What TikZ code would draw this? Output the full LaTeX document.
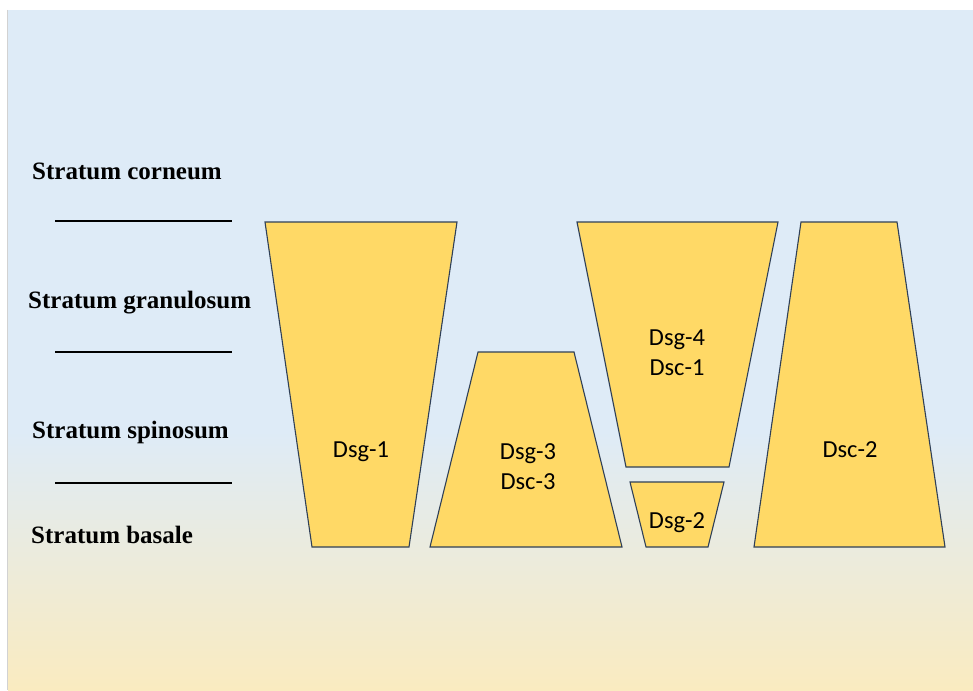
\documentclass[tikz,border=0pt]{standalone}
\usepackage{fontspec}
\setmainfont{Liberation Serif}
\newfontfamily\calib{Carlito}
\definecolor{bgblue}{HTML}{DEEBF7}
\definecolor{bgyellow}{HTML}{FAEBC0}
\definecolor{gold}{HTML}{FFD966}
\definecolor{edge}{HTML}{2F4058}
\tikzset{
  layer/.style={font=\fontsize{25}{28}\selectfont\bfseries, anchor=base west, inner sep=0pt},
  sep/.style={line width=1.6pt, black},
  cell/.style={fill=gold, draw=edge, line width=1.1pt, line join=miter},
  lbl/.style={font=\calib\fontsize{24.5}{30}\selectfont, align=center, inner sep=0pt},
  lblb/.style={lbl, anchor=base}
}
\begin{document}
\begin{tikzpicture}[x=1pt,y=-1pt]
\useasboundingbox (0,0) rectangle (973,690);
\fill[white] (0,0) rectangle (973,690);
\fill[bgblue] (8,10) rectangle (973,432);
\shade[top color=bgblue, bottom color=bgyellow] (8,431.5) rectangle (973,690);
\draw[gray!35, line width=1.2pt] (7.5,10) -- (7.5,690);

% layer labels
\node[layer] (corneum) at (32,179.5) {Stratum corneum};
\node[layer] (granulosum) at (28,308.5) {Stratum granulosum};
\node[layer] (spinosum) at (32,438.5) {Stratum spinosum};
\node[layer] (basale) at (31,543.5) {Stratum basale};

% separator lines
\coordinate (l1a) at (55,221); \coordinate (l1b) at (232,221);
\coordinate (l2a) at (55,352); \coordinate (l2b) at (232,352);
\coordinate (l3a) at (55,483); \coordinate (l3b) at (232,483);
\draw[sep] (l1a) -- (l1b);
\draw[sep] (l2a) -- (l2b);
\draw[sep] (l3a) -- (l3b);

% cell shapes
\draw[cell] (265,222) -- (457,222) -- (409,547) -- (312,547) -- cycle;
\draw[cell] (478,352) -- (574,352) -- (622,547) -- (430,547) -- cycle;
\draw[cell] (577,222) -- (778,222) -- (729,467) -- (626,467) -- cycle;
\draw[cell] (630,482) -- (724,482) -- (708,547) -- (646,547) -- cycle;
\draw[cell] (801,222) -- (897,222) -- (945,547) -- (754,547) -- cycle;

% cell labels
\node[lblb] (dsg1) at (361,457) {Dsg-1};
\node[lbl] (dsg3) at (528,466.5) {Dsg-3\\Dsc-3};
\node[lbl] (dsg4) at (677,353) {Dsg-4\\Dsc-1};
\node[lblb] (dsg2) at (677,528) {Dsg-2};
\node[lblb] (dsc2) at (850,457) {Dsc-2};
\end{tikzpicture}
\end{document}
